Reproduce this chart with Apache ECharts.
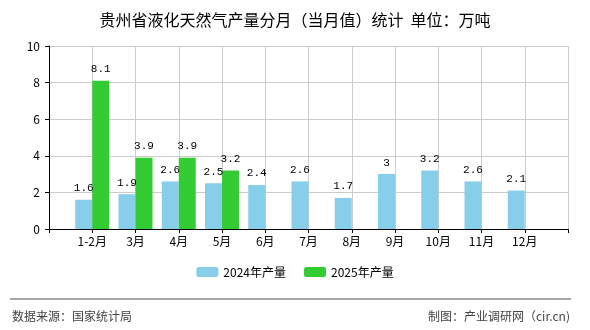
<!DOCTYPE html>
<html><head><meta charset="utf-8">
<script src="https://cdn.jsdelivr.net/npm/echarts@6/dist/echarts.min.js"></script>
<style>html,body{margin:0;padding:0;background:#fff}#c{width:590px;height:330px}</style>
</head><body><div id="c"></div>
<script>
const categories = ['1-2月','3月','4月','5月','6月','7月','8月','9月','10月','11月','12月'];
const values2024 = [1.6, 1.9, 2.6, 2.5, 2.4, 2.6, 1.7, 3, 3.2, 2.6, 2.1];
const values2025 = [8.1, 3.9, 3.9, 3.2, null, null, null, null, null, null, null];
const seriesNames = ['2024年产量', '2025年产量'];
const yTicks = [0, 2, 4, 6, 8, 10];

const cats = [''].concat(categories, ['']);
const pad = arr => [null].concat(arr, [null]);

const chart = echarts.init(document.getElementById('c'));
const cjk = '"Noto Sans CJK SC", sans-serif';
const labelStyle = {show: true, position: 'top', distance: 6, color: '#000', fontSize: 11, fontFamily: '"Liberation Mono", monospace'};
chart.setOption({
  animation: false,
  title: {text: '贵州省液化天然气产量分月（当月值）统计  单位：万吨', left: 'center', top: 7,
    textStyle: {fontSize: 16, fontWeight: 'normal', color: '#000', fontFamily: cjk}},
  grid: {left: 49, right: 22, top: 46, bottom: 101},
  legend: {bottom: 47, left: 'center', itemWidth: 22, itemHeight: 10, itemGap: 18,
    textStyle: {fontSize: 12, color: '#000', fontFamily: cjk}, data: seriesNames},
  xAxis: {type: 'category', data: cats, boundaryGap: false,
    axisLine: {lineStyle: {color: '#000', width: 1}},
    axisTick: {show: true, length: 4, interval: 0, lineStyle: {color: '#000'}},
    axisLabel: {interval: 0, color: '#000', fontSize: 12, margin: 6, fontFamily: cjk},
    splitLine: {show: true, interval: 0, lineStyle: {color: '#ccc'}}},
  yAxis: {type: 'value', min: yTicks[0], max: yTicks[yTicks.length-1], interval: 2,
    axisLine: {show: true, lineStyle: {color: '#000'}},
    axisTick: {show: true, length: 4, lineStyle: {color: '#000'}},
    axisLabel: {color: '#000', fontSize: 12, margin: 9, fontFamily: cjk},
    splitLine: {lineStyle: {color: '#ccc'}}},
  series: [
    {name: seriesNames[0], type: 'bar', data: pad(values2024), barWidth: 17, barGap: '0%',
      itemStyle: {color: '#87CEEB'}, label: labelStyle},
    {name: seriesNames[1], type: 'bar', data: pad(values2025), barWidth: 17, barGap: '0%',
      itemStyle: {color: '#33CC33'}, label: labelStyle}
  ],
  graphic: [
    {type: 'line', shape: {x1: 10, y1: 299, x2: 571, y2: 299}, style: {stroke: '#888', lineWidth: 1.5}},
    {type: 'text', left: 12, top: 310, style: {text: '数据来源：国家统计局', fill: '#444', fontSize: 12, fontFamily: cjk}},
    {type: 'text', right: 20, top: 310, style: {text: '制图：产业调研网（cir.cn)', fill: '#444', fontSize: 12, fontFamily: cjk}}
  ]
});
</script></body></html>
